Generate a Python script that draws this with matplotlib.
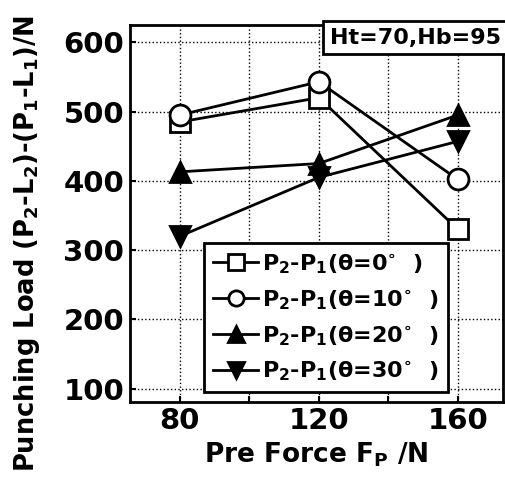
import numpy as np
import matplotlib as mpl
mpl.use('Agg')
import matplotlib.pyplot as plt

# data
pre_force = [80, 120, 160]
load_0 = [485, 520, 330]
load_10 = [495, 543, 402]
load_20 = [413, 425, 495]
load_30 = [320, 405, 457]
labels = [r'P$_2$-P$_1$($\theta$=0$^{\circ}$  )',
          r'P$_2$-P$_1$($\theta$=10$^{\circ}$  )',
          r'P$_2$-P$_1$($\theta$=20$^{\circ}$  )',
          r'P$_2$-P$_1$($\theta$=30$^{\circ}$  )']
x_ticks = [80, 120, 160]
y_ticks = [100, 200, 300, 400, 500, 600]


def generateFigure():
    mpl.rcParams['font.family'] = 'DejaVu Sans'
    mpl.rcParams['font.weight'] = 'bold'
    mpl.rcParams['mathtext.default'] = 'bf'
    mpl.rcParams['xtick.direction'] = 'in'
    mpl.rcParams['ytick.direction'] = 'in'

    fig = plt.figure(figsize=(5.05, 4.9), dpi=100)
    ax = fig.add_axes([0.257, 0.18, 0.739, 0.769])

    mk = dict(color='k', lw=2.0, markersize=15, markeredgewidth=2.0, zorder=3)
    ax.plot(pre_force, load_0, marker='s', mfc='white', label=labels[0], **mk)
    ax.plot(pre_force, load_10, marker='o', mfc='white', label=labels[1], **mk)
    ax.plot(pre_force, load_20, marker='^', mfc='k', label=labels[2], **mk)
    ax.plot(pre_force, load_30, marker='v', mfc='k', label=labels[3], **mk)

    ax.set_xlim(65.6, 173)
    ax.set_ylim(81, 625)
    ax.set_xticks(x_ticks)
    ax.set_xticks([100, 140], minor=True)
    ax.set_yticks(y_ticks)
    ax.grid(True, which='both', color='k', ls=':', lw=1.0)
    ax.tick_params(axis='both', which='both', length=4, width=1.5, labelsize=21, pad=4)
    for s in ax.spines.values():
        s.set_linewidth(2.0)

    ax.set_xlabel(r'Pre Force F$_P$ /N', fontsize=19, fontweight='bold', labelpad=4)
    ax.set_ylabel(r'Punching Load (P$_2$-L$_2$)-(P$_1$-L$_1$)/N', fontsize=18.5,
                  fontweight='bold')
    ax.yaxis.set_label_coords(-0.235, 0.42)

    lg = ax.legend(loc='lower left', bbox_to_anchor=(0.2, 0.025), fontsize=16,
                   frameon=True, fancybox=False, framealpha=1, edgecolor='k',
                   handlelength=2.0, handletextpad=0.2, borderpad=0.4,
                   labelspacing=0.55, borderaxespad=0)
    lg.get_frame().set_linewidth(2.0)
    for h in lg.legend_handles:
        h.set_markersize(11)

    ax.text(0.995, 0.993, 'Ht=70,Hb=95', transform=ax.transAxes, ha='right', va='top',
            fontsize=16, fontweight='bold',
            bbox=dict(boxstyle='square,pad=0.3', fc='white', ec='k', lw=2.0), zorder=5)

    plt.savefig('out.png', dpi=100)


def main():
    generateFigure()


main()
